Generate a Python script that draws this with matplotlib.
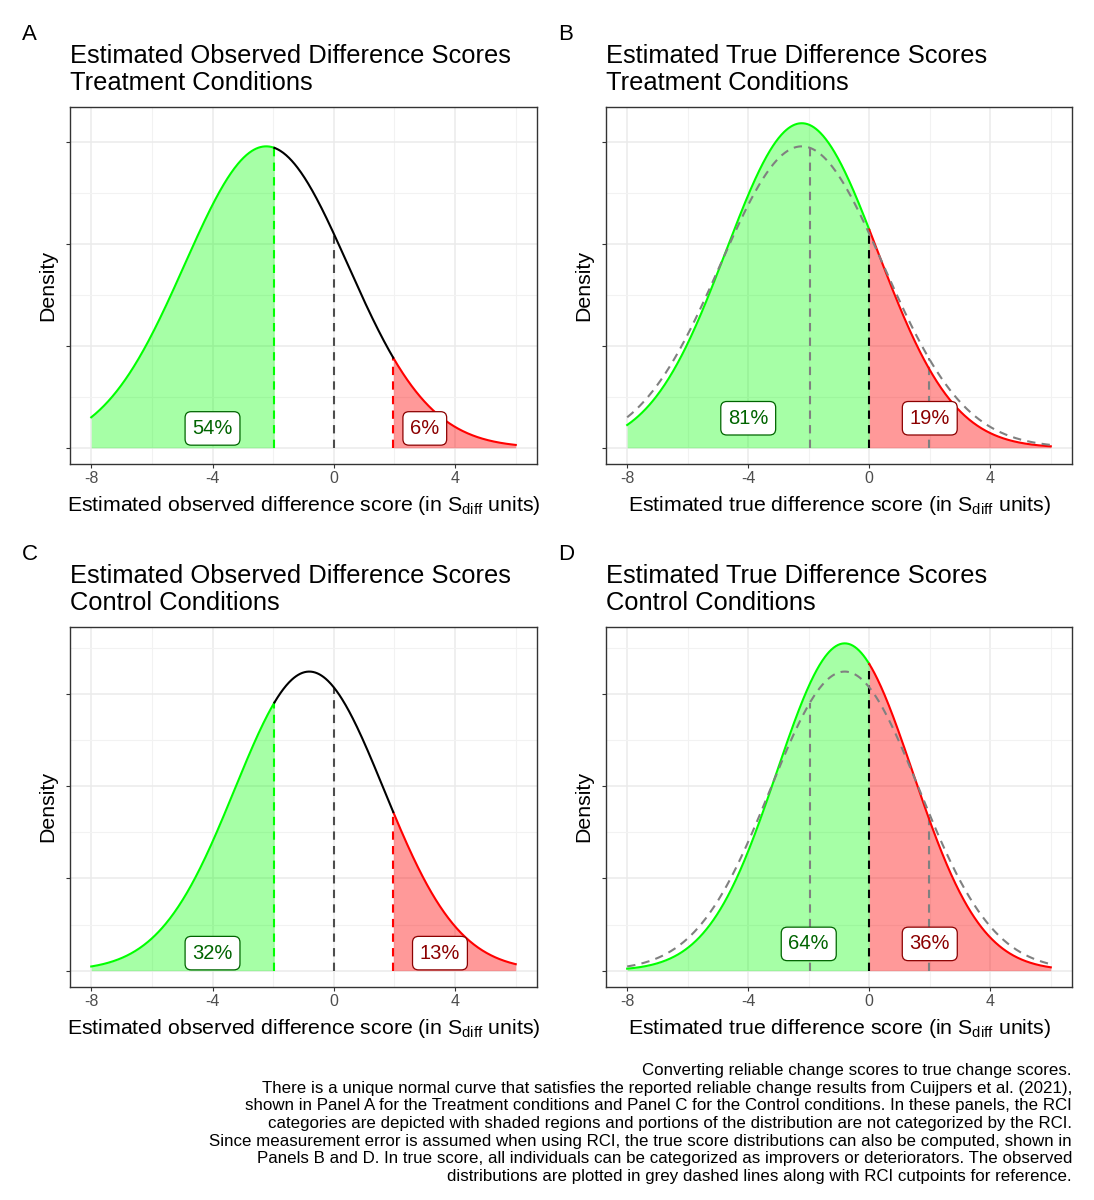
import numpy as np
import matplotlib
matplotlib.use("Agg")
import matplotlib.pyplot as plt
from matplotlib.ticker import FixedLocator, NullFormatter

# -----------------------------
# DATA
# -----------------------------
x_min, x_max = -8, 6
rci_cut = 1.96

# observed difference score distributions (treatment, control)
obs_mean = [-2.23, -0.81]
obs_sd = [2.695, 2.459]
# true difference score distributions (same mean, error removed)
true_sd = [2.503, 2.247]

row_names = ["Treatment Conditions", "Control Conditions"]
obs_pct = [["54%", "6%"], ["32%", "13%"]]
true_pct = [["81%", "19%"], ["64%", "36%"]]

# label anchor positions (x, density)
obs_lab_x = [[-4, 3], [-4, 3.5]]
true_lab_x = [[-4, 2], [-2, 2]]
obs_lab_y = [0.0095, 0.0095]
true_lab_y = [0.0145, 0.0145]

panel_letters = [["A", "B"], ["C", "D"]]

caption = [
    "Converting reliable change scores to true change scores.",
    "There is a unique normal curve that satisfies the reported reliable change results from Cuijpers et al. (2021),",
    "shown in Panel A for the Treatment conditions and Panel C for the Control conditions. In these panels, the RCI",
    "categories are depicted with shaded regions and portions of the distribution are not categorized by the RCI.",
    "Since measurement error is assumed when using RCI, the true score distributions can also be computed, shown in",
    "Panels B and D. In true score, all individuals can be categorized as improvers or deteriorators. The observed",
    "distributions are plotted in grey dashed lines along with RCI cutpoints for reference.",
]

# -----------------------------
# STYLE
# -----------------------------
plt.rcParams["font.family"] = ["Liberation Sans", "DejaVu Sans"]
plt.rcParams["mathtext.fontset"] = "custom"
plt.rcParams["mathtext.rm"] = "Liberation Sans"
plt.rcParams["mathtext.it"] = "Liberation Sans:italic"
plt.rcParams["axes.unicode_minus"] = False

GREEN = "#00FF00"
RED = "#FF0000"
DKGREEN = "#006400"
DKRED = "#8B0000"
W, H = 1094, 1200
DASH = (0, (4, 3))


def dnorm(x, m, s):
    return np.exp(-0.5 * ((x - m) / s) ** 2) / (s * np.sqrt(2 * np.pi))


def style_axes(ax, xlabel):
    ax.set_facecolor("white")
    for sp in ax.spines.values():
        sp.set_color("#333333")
        sp.set_linewidth(1.0)
    ax.xaxis.set_major_locator(FixedLocator([-8, -4, 0, 4]))
    ax.xaxis.set_minor_locator(FixedLocator([-6, -2, 2, 6]))
    ax.yaxis.set_major_locator(FixedLocator([0, 0.05, 0.10, 0.15]))
    ax.yaxis.set_minor_locator(FixedLocator([0.025, 0.075, 0.125, 0.175]))
    ax.yaxis.set_major_formatter(NullFormatter())
    ax.grid(which="major", color="#EBEBEB", linewidth=1.1, zorder=0)
    ax.grid(which="minor", color="#F2F2F2", linewidth=0.8, zorder=0)
    ax.set_axisbelow(True)
    ax.tick_params(axis="both", which="major", length=3, width=0.8, color="#333333",
                   labelsize=11.5, labelcolor="#4D4D4D", pad=2)
    ax.tick_params(axis="both", which="minor", length=0)
    ax.set_xlabel(xlabel, fontsize=15.3, labelpad=6)
    ax.set_ylabel("Density", fontsize=15.3, labelpad=4)
    ax.set_xlim(x_min - 0.05 * (x_max - x_min), x_max + 0.05 * (x_max - x_min))


def add_label(ax, x, y, txt, col):
    ax.text(x, y, txt, ha="center", va="center", fontsize=14.5, color=col, zorder=10,
            bbox=dict(boxstyle="round,pad=0.36,rounding_size=0.3", fc="white", ec=col, lw=0.9))


fig = plt.figure(figsize=(W / 100, H / 100), dpi=100)

# panel boxes in pixels: left, top, right, bottom
lefts = [70, 606]
rights = [537, 1072]
tops = [107, 627]
bottoms = [464, 987]

x = np.linspace(x_min, x_max, 600)

for r in range(2):
    m, so, st = obs_mean[r], obs_sd[r], true_sd[r]
    y_obs = dnorm(x, m, so)
    y_true = dnorm(x, m, st)
    ytop = max(y_obs.max(), y_true.max())
    ylim = (-0.05 * ytop, ytop * 1.05)

    axes = []
    for c in range(2):
        ax = fig.add_axes([lefts[c] / W, 1 - bottoms[r] / H,
                           (rights[c] - lefts[c]) / W, (bottoms[r] - tops[r]) / H])
        axes.append(ax)

    # ---- observed panel ----
    ax = axes[0]
    style_axes(ax, r"Estimated observed difference score (in S$_{\mathrm{diff}}$ units)")
    lo = x <= -rci_cut
    hi = x >= rci_cut
    mid = (x >= -rci_cut) & (x <= rci_cut)
    xl = np.append(x[lo], -rci_cut)
    xh = np.insert(x[hi], 0, rci_cut)
    xm = np.concatenate([[-rci_cut], x[mid], [rci_cut]])
    ax.fill_between(xl, dnorm(xl, m, so), color=GREEN, alpha=0.35, lw=0, zorder=2)
    ax.fill_between(xh, dnorm(xh, m, so), color=RED, alpha=0.4, lw=0, zorder=2)
    ax.plot(xl, dnorm(xl, m, so), color=GREEN, lw=1.5, zorder=4)
    ax.plot(xh, dnorm(xh, m, so), color=RED, lw=1.5, zorder=4)
    ax.plot(xm, dnorm(xm, m, so), color="black", lw=1.5, zorder=4)
    ax.vlines(-rci_cut, 0, dnorm(-rci_cut, m, so), colors=GREEN, linestyles=DASH, lw=1.5, zorder=3)
    ax.vlines(rci_cut, 0, dnorm(rci_cut, m, so), colors=RED, linestyles=DASH, lw=1.5, zorder=3)
    ax.vlines(0, 0, dnorm(0, m, so), colors="#4D4D4D", linestyles=DASH, lw=1.5, zorder=3)
    add_label(ax, obs_lab_x[r][0], obs_lab_y[r], obs_pct[r][0], DKGREEN)
    add_label(ax, obs_lab_x[r][1], obs_lab_y[r], obs_pct[r][1], DKRED)
    ax.set_ylim(ylim)
    ax.set_title("Estimated Observed Difference Scores\n" + row_names[r], loc="left",
                 fontsize=18.4, pad=12, linespacing=1.17)

    # ---- true panel ----
    ax = axes[1]
    style_axes(ax, r"Estimated true difference score (in S$_{\mathrm{diff}}$ units)")
    neg = x <= 0
    pos = x >= 0
    xn = np.append(x[neg], 0)
    xp = np.insert(x[pos], 0, 0)
    ax.fill_between(xn, dnorm(xn, m, st), color=GREEN, alpha=0.35, lw=0, zorder=2)
    ax.fill_between(xp, dnorm(xp, m, st), color=RED, alpha=0.4, lw=0, zorder=2)
    ax.plot(xn, dnorm(xn, m, st), color=GREEN, lw=1.5, zorder=4)
    ax.plot(xp, dnorm(xp, m, st), color=RED, lw=1.5, zorder=4)
    ax.plot(x, y_obs, color="#808080", lw=1.5, ls=DASH, zorder=5)
    for cpt in (-rci_cut, rci_cut):
        ax.vlines(cpt, 0, dnorm(cpt, m, so), colors="#808080", linestyles=DASH, lw=1.5, zorder=3)
    ax.vlines(0, 0, dnorm(0, m, st), colors="black", linestyles=DASH, lw=1.5, zorder=3)
    add_label(ax, true_lab_x[r][0], true_lab_y[r], true_pct[r][0], DKGREEN)
    add_label(ax, true_lab_x[r][1], true_lab_y[r], true_pct[r][1], DKRED)
    ax.set_ylim(ylim)
    ax.set_title("Estimated True Difference Scores\n" + row_names[r], loc="left",
                 fontsize=18.4, pad=12, linespacing=1.17)

    # panel letters
    for c in range(2):
        fig.text((lefts[c] - 48) / W, 1 - (tops[r] - 73) / H, panel_letters[r][c],
                 fontsize=16, ha="left", va="center")

# caption
fig.text(1072 / W, 1 - 1063 / H, "\n".join(caption), ha="right", va="top",
         fontsize=12.2, linespacing=1.22,
         family=["Liberation Sans Narrow", "Liberation Sans", "DejaVu Sans"])

fig.savefig("out.png", dpi=100)
